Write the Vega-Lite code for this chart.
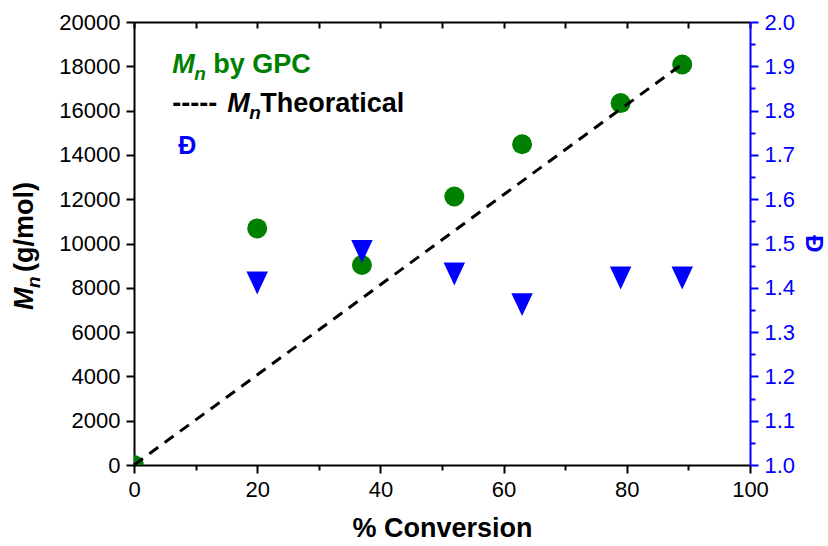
{
  "$schema": "https://vega.github.io/schema/vega-lite/v6.json",
  "width": 616,
  "height": 443,
  "autosize": "none",
  "padding": {"left": 134, "top": 22, "right": 78, "bottom": 81},
  "background": "white",
  "config": {"view": {"stroke": null}, "font": "Liberation Sans", "axis": {"grid": false, "labelFlush": false, "labelOverlap": false}},
  "datasets": {
    "gpc": [
      {"conv": 0, "mn": 0},
      {"conv": 20, "mn": 10680},
      {"conv": 37, "mn": 9030},
      {"conv": 52, "mn": 12120},
      {"conv": 63, "mn": 14480},
      {"conv": 79, "mn": 16340},
      {"conv": 89, "mn": 18080}
    ],
    "theo": [
      {"conv": 0, "mn": 0},
      {"conv": 89, "mn": 18100}
    ],
    "disp": [
      {"conv": 20, "d": 1.411},
      {"conv": 37, "d": 1.482},
      {"conv": 52, "d": 1.431},
      {"conv": 63, "d": 1.362},
      {"conv": 79, "d": 1.422},
      {"conv": 89, "d": 1.422}
    ]
  },
  "layer": [
    {
      "layer": [
        {
          "data": {"name": "gpc"},
          "mark": {"type": "point", "shape": "circle", "filled": true, "color": "#008000", "opacity": 1, "size": 400, "clip": true},
          "encoding": {
            "x": {"field": "conv", "type": "quantitative", "scale": {"domain": [0, 100], "nice": false},
              "axis": {"orient": "bottom", "values": [0,10,20,30,40,50,60,70,80,90,100],
                "labelExpr": "datum.value % 20 === 0 ? datum.label : ''",
                "tickSize": {"condition": {"test": "datum.value % 20 === 0", "value": 8}, "value": 5},
                "domainColor": "black", "domainWidth": 2, "tickColor": "black", "tickWidth": 2,
                "labelFont": "Liberation Sans", "labelFontSize": 22, "labelColor": "black", "labelPadding": 6,
                "title": "% Conversion", "titleFont": "Liberation Sans", "titleFontSize": 27, "titleFontWeight": "bold", "titleColor": "black", "titlePadding": 15}},
            "y": {"field": "mn", "type": "quantitative", "scale": {"domain": [0, 20000], "nice": false},
              "axis": {"orient": "left", "values": [0,1000,2000,3000,4000,5000,6000,7000,8000,9000,10000,11000,12000,13000,14000,15000,16000,17000,18000,19000,20000],
                "labelExpr": "datum.value % 2000 === 0 ? format(datum.value, 'd') : ''",
                "tickSize": {"condition": {"test": "datum.value % 2000 === 0", "value": 8}, "value": 5},
                "domainColor": "black", "domainWidth": 2, "tickColor": "black", "tickWidth": 2,
                "labelFont": "Liberation Sans", "labelFontSize": 22, "labelColor": "black", "labelPadding": 6,
                "title": null}}
          }
        },
        {
          "data": {"name": "theo"},
          "mark": {"type": "line", "color": "black", "strokeWidth": 3, "strokeDash": [11, 8]},
          "encoding": {
            "x": {"field": "conv", "type": "quantitative"},
            "y": {"field": "mn", "type": "quantitative"}
          }
        },
        {
          "data": {"values": [{}]},
          "mark": {"type": "text", "text": "M", "font": "Liberation Sans", "fontSize": 27, "fontWeight": "bold", "fontStyle": "italic", "color": "#008000", "align": "left", "baseline": "alphabetic"},
          "encoding": {"x": {"datum": 6.2, "type": "quantitative"}, "y": {"datum": 17710, "type": "quantitative"}}
        },
        {
          "data": {"values": [{}]},
          "mark": {"type": "text", "text": "n", "font": "Liberation Sans", "fontSize": 19, "fontWeight": "bold", "fontStyle": "italic", "color": "#008000", "align": "left", "baseline": "alphabetic", "dx": 22, "dy": 7},
          "encoding": {"x": {"datum": 6.2, "type": "quantitative"}, "y": {"datum": 17710, "type": "quantitative"}}
        },
        {
          "data": {"values": [{}]},
          "mark": {"type": "text", "text": "by GPC", "font": "Liberation Sans", "fontSize": 27, "fontWeight": "bold", "color": "#008000", "align": "left", "baseline": "alphabetic", "dx": 41},
          "encoding": {"x": {"datum": 6.2, "type": "quantitative"}, "y": {"datum": 17710, "type": "quantitative"}}
        },
        {
          "data": {"values": [{}]},
          "mark": {"type": "text", "text": "-----", "font": "Liberation Sans", "fontSize": 27, "fontWeight": "bold", "color": "black", "align": "left", "baseline": "alphabetic"},
          "encoding": {"x": {"datum": 6.2, "type": "quantitative"}, "y": {"datum": 15950, "type": "quantitative"}}
        },
        {
          "data": {"values": [{}]},
          "mark": {"type": "text", "text": "M", "font": "Liberation Sans", "fontSize": 27, "fontWeight": "bold", "fontStyle": "italic", "color": "black", "align": "left", "baseline": "alphabetic", "dx": 55},
          "encoding": {"x": {"datum": 6.2, "type": "quantitative"}, "y": {"datum": 15950, "type": "quantitative"}}
        },
        {
          "data": {"values": [{}]},
          "mark": {"type": "text", "text": "n", "font": "Liberation Sans", "fontSize": 19, "fontWeight": "bold", "fontStyle": "italic", "color": "black", "align": "left", "baseline": "alphabetic", "dx": 77, "dy": 7},
          "encoding": {"x": {"datum": 6.2, "type": "quantitative"}, "y": {"datum": 15950, "type": "quantitative"}}
        },
        {
          "data": {"values": [{}]},
          "mark": {"type": "text", "text": "Theoratical", "font": "Liberation Sans", "fontSize": 27, "fontWeight": "bold", "color": "black", "align": "left", "baseline": "alphabetic", "dx": 88},
          "encoding": {"x": {"datum": 6.2, "type": "quantitative"}, "y": {"datum": 15950, "type": "quantitative"}}
        },
        {
          "data": {"values": [{}]},
          "mark": {"type": "text", "text": "Đ", "font": "Liberation Sans", "fontSize": 25, "fontWeight": "bold", "color": "#0000FF", "align": "left", "baseline": "alphabetic", "dx": 6},
          "encoding": {"x": {"datum": 6.2, "type": "quantitative"}, "y": {"datum": 14040, "type": "quantitative"}}
        },
        {
          "data": {"values": [{}]},
          "mark": {"type": "text", "text": "M", "font": "Liberation Sans", "fontSize": 27, "fontWeight": "bold", "fontStyle": "italic", "color": "black", "align": "left", "baseline": "alphabetic", "angle": 270, "dx": 0, "dy": -101},
          "encoding": {"x": {"datum": 0, "type": "quantitative"}, "y": {"datum": 7000, "type": "quantitative"}}
        },
        {
          "data": {"values": [{}]},
          "mark": {"type": "text", "text": "n", "font": "Liberation Sans", "fontSize": 19, "fontWeight": "bold", "fontStyle": "italic", "color": "black", "align": "left", "baseline": "alphabetic", "angle": 270, "dx": 22, "dy": -94},
          "encoding": {"x": {"datum": 0, "type": "quantitative"}, "y": {"datum": 7000, "type": "quantitative"}}
        },
        {
          "data": {"values": [{}]},
          "mark": {"type": "text", "text": "(g/mol)", "font": "Liberation Sans", "fontSize": 27, "fontWeight": "bold", "color": "black", "align": "left", "baseline": "alphabetic", "angle": 270, "dx": 38, "dy": -101},
          "encoding": {"x": {"datum": 0, "type": "quantitative"}, "y": {"datum": 7000, "type": "quantitative"}}
        }
      ]
    },
    {
      "data": {"name": "disp"},
      "mark": {"type": "point", "shape": "M-1,-1.07L1,-1.07L0,1.07Z", "filled": true, "color": "#0000FF", "opacity": 1, "size": 460},
      "encoding": {
        "x": {"field": "conv", "type": "quantitative", "scale": {"domain": [0, 100], "nice": false},
          "axis": {"orient": "top", "values": [0,10,20,30,40,50,60,70,80,90,100], "labels": false, "title": null,
            "tickSize": -6, "domainColor": "black", "domainWidth": 2, "tickColor": "black", "tickWidth": 2}},
        "y": {"field": "d", "type": "quantitative", "scale": {"domain": [1, 2], "nice": false},
          "axis": {"orient": "right", "values": [1,1.05,1.1,1.15,1.2,1.25,1.3,1.35,1.4,1.45,1.5,1.55,1.6,1.65,1.7,1.75,1.8,1.85,1.9,1.95,2],
            "labelExpr": "round(datum.value*100) % 10 === 0 ? format(datum.value, '.1f') : ''",
            "tickSize": {"condition": {"test": "round(datum.value*100) % 10 === 0", "value": 8}, "value": 5},
            "domainColor": "#0000FF", "domainWidth": 2, "tickColor": "#0000FF", "tickWidth": 2,
            "labelFont": "Liberation Sans", "labelFontSize": 22, "labelColor": "#0000FF", "labelPadding": 6,
            "title": "Đ", "titleFont": "Liberation Sans", "titleFontSize": 24, "titleFontWeight": "bold", "titleColor": "#0000FF", "titlePadding": 6}}
      }
    }
  ],
  "resolve": {"scale": {"y": "independent"}, "axis": {"x": "independent"}}
}
